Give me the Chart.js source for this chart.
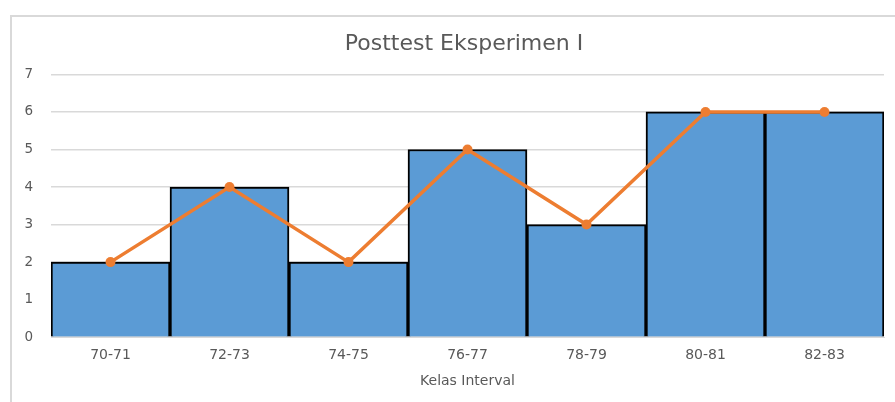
<!DOCTYPE html>
<html lang="id">
<head>
    <meta charset="UTF-8">
    <title>Posttest Eksperimen I</title>
    <script src="https://cdn.jsdelivr.net/npm/chart.js"></script>
    <style>
        body {
            margin: 0;
            background: #ffffff;
            overflow: hidden;
        }

        .frame {
            position: absolute;
            left: 10px;
            top: 15px;
            width: 900px;
            height: 400px;
            border-left: 2px solid #d9d9d9;
            border-top: 2px solid #d9d9d9;
        }

        /* canvas runs past the right edge, like the cropped original */
        .wrap {
            position: absolute;
            left: 0;
            top: 0;
            width: 928px;
            height: 402px;
        }
    </style>
</head>
<body>
    <div class="frame"></div>
    <div class="wrap">
        <canvas id="histChart"></canvas>
    </div>

    <script>
        const kelasInterval = ['70-71', '72-73', '74-75', '76-77', '78-79', '80-81', '82-83'];
        const frekuensi = [2, 4, 2, 5, 3, 6, 6];
        const poligon = [2, 4, 2, 5, 3, 6, 6];

        const fontFamily = "'DejaVu Sans', sans-serif";
        const grey = '#595959';

        new Chart(document.getElementById('histChart'), {
            data: {
                labels: kelasInterval,
                datasets: [
                    {
                        type: 'line',
                        data: poligon,
                        borderColor: '#ed7d31',
                        backgroundColor: '#ed7d31',
                        borderWidth: 3.5,
                        pointRadius: 5,
                        pointBorderWidth: 0,
                        tension: 0,
                        order: 1
                    },
                    {
                        type: 'bar',
                        data: frekuensi,
                        backgroundColor: '#5b9bd5',
                        borderColor: '#000000',
                        borderWidth: 2,
                        barPercentage: 1,
                        categoryPercentage: 1,
                        order: 2
                    }
                ]
            },
            options: {
                responsive: true,
                maintainAspectRatio: false,
                animation: false,
                layout: {
                    padding: { left: 0, right: 0, top: 0, bottom: 8 }
                },
                plugins: {
                    legend: { display: false },
                    tooltip: { enabled: false },
                    title: {
                        display: true,
                        text: 'Posttest Eksperimen I',
                        color: grey,
                        font: { family: fontFamily, size: 22, weight: 'normal' },
                        padding: { top: 31, bottom: 17 }
                    }
                },
                scales: {
                    x: {
                        grid: { display: false, drawTicks: false },
                        border: { display: true, color: '#d9d9d9' },
                        ticks: {
                            color: grey,
                            padding: 11,
                            font: { family: fontFamily, size: 14, lineHeight: 1 }
                        },
                        title: {
                            display: true,
                            text: 'Kelas Interval',
                            color: grey,
                            font: { family: fontFamily, size: 14 },
                            padding: { top: 0, bottom: 4 }
                        }
                    },
                    y: {
                        min: 0,
                        max: 7,
                        afterFit: (scale) => { scale.width = 51; },
                        grid: { color: '#d9d9d9', lineWidth: 1.5, drawTicks: false },
                        border: { display: false },
                        ticks: {
                            stepSize: 1,
                            color: grey,
                            padding: 18,
                            font: { family: fontFamily, size: 13.5 }
                        }
                    },
                    // empty spacer on the right so the plot stops at x=884
                    spacer: {
                        position: 'right',
                        min: 0,
                        max: 7,
                        afterFit: (scale) => { scale.width = 44; },
                        grid: { display: false, drawTicks: false },
                        border: { display: false },
                        ticks: { display: false }
                    }
                }
            }
        });
    </script>
</body>
</html>
